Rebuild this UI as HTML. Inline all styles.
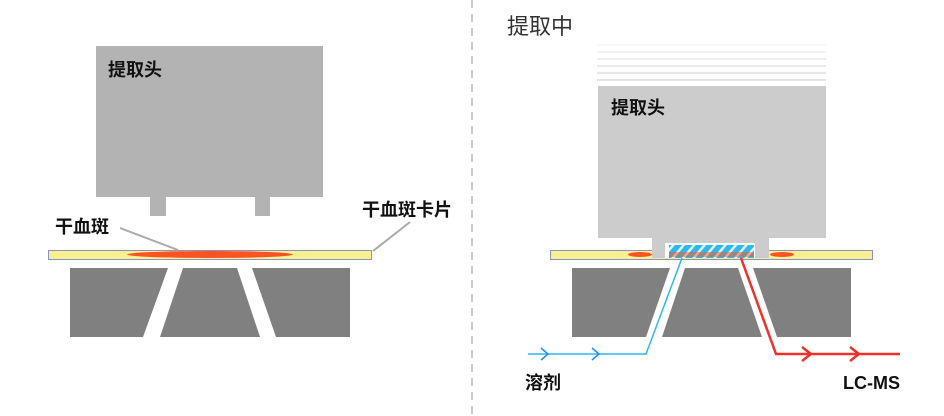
<!DOCTYPE html>
<html><head><meta charset="utf-8"><style>
body{margin:0;background:#fff;}
svg{display:block;}
text{font-family:"Liberation Sans","Noto Sans CJK SC",sans-serif;}
</style></head><body>
<svg width="944" height="416" viewBox="0 0 944 416" xmlns="http://www.w3.org/2000/svg">
<defs>
<pattern id="hatch" width="8" height="8" patternUnits="userSpaceOnUse" patternTransform="rotate(40)">
<rect width="8" height="8" fill="#2fb8ee"/>
<rect width="2.5" height="8" fill="#fff" opacity="0.85"/>
</pattern>
</defs>
<line x1="472" y1="0" x2="472" y2="416" stroke="#bbb" stroke-width="1.5" stroke-dasharray="8,6"/>

<!-- LEFT -->
<rect x="96" y="46" width="227" height="151" fill="#b3b3b3"/>
<rect x="150" y="196" width="16" height="20" fill="#b3b3b3"/>
<rect x="255" y="196" width="15" height="20" fill="#b3b3b3"/>
<text x="108" y="76" font-size="18" font-weight="bold" fill="#111">提取头</text>
<rect x="48.5" y="250.5" width="323" height="9" fill="#fbf08f" stroke="#8a93c4" stroke-width="1"/>
<ellipse cx="210" cy="254.5" rx="83" ry="3.5" fill="#fb5420"/>
<polygon points="70,268 168,268 143,337 70,337" fill="#808080"/>
<polygon points="183,268 237,268 260,337 160,337" fill="#808080"/>
<polygon points="252,268 350,268 350,337 276,337" fill="#808080"/>
<text x="55" y="233" font-size="18" font-weight="bold" fill="#111">干血斑</text>
<line x1="120" y1="228" x2="178" y2="250" stroke="#aaa" stroke-width="2"/>
<text x="362" y="216" font-size="18" font-weight="bold" fill="#111">干血斑卡片</text>
<line x1="410" y1="222" x2="373" y2="251" stroke="#aaa" stroke-width="2"/>

<!-- RIGHT -->
<text x="507" y="34" font-size="22" fill="#333">提取中</text>
<line x1="597" y1="45" x2="826" y2="45" stroke="#f0f0f0" stroke-width="1"/>
<line x1="597" y1="52" x2="826" y2="52" stroke="#e6e6e6" stroke-width="1"/>
<line x1="597" y1="59" x2="826" y2="59" stroke="#dedede" stroke-width="1"/>
<line x1="597" y1="66" x2="826" y2="66" stroke="#d6d6d6" stroke-width="1"/>
<line x1="597" y1="73" x2="826" y2="73" stroke="#d0d0d0" stroke-width="1"/>
<line x1="597" y1="80" x2="826" y2="80" stroke="#c8c8c8" stroke-width="1"/>
<rect x="598" y="86" width="228" height="152" fill="#cccccc"/>
<rect x="652" y="237" width="117" height="20" fill="#cccccc"/>
<rect x="665" y="243" width="90" height="14" fill="#fff"/>
<text x="611" y="114" font-size="18" font-weight="bold" fill="#111">提取头</text>
<rect x="550.5" y="250.5" width="322" height="9" fill="#fbf08f" stroke="#8a93c4" stroke-width="1"/>
<rect x="652" y="250" width="117" height="8" fill="#cccccc"/>
<rect x="665" y="250" width="90" height="8" fill="#fff"/>
<ellipse cx="640" cy="254.5" rx="12" ry="2.5" fill="#fb5420"/>
<ellipse cx="782" cy="254.5" rx="12" ry="2.5" fill="#fb5420"/>
<rect x="669" y="245" width="85" height="13" fill="url(#hatch)"/>
<rect x="669" y="252" width="85" height="5" fill="#fb5420" opacity="0.5"/>
<polygon points="572,268 670,268 646,337 572,337" fill="#808080"/>
<polygon points="685,268 738,268 762,337 662,337" fill="#808080"/>
<polygon points="753,268 851,268 851,337 777,337" fill="#808080"/>
<polyline points="528,354 646,354 682,258" fill="none" stroke="#2fb8ee" stroke-width="1.5"/>
<path d="M541 348 L548 354 L541 360 M592 348 L599 354 L592 360" fill="none" stroke="#1e8ef0" stroke-width="1.5"/>
<polyline points="741,258 776,354 900,354" fill="none" stroke="#f2302a" stroke-width="2.5"/>
<path d="M802 347 L811 354 L802 361 M850 347 L859 354 L850 361" fill="none" stroke="#f2302a" stroke-width="2.5"/>
<text x="525" y="389" font-size="18" font-weight="bold" fill="#111">溶剂</text>
<text x="843" y="389" font-size="18" font-weight="bold" fill="#111">LC-MS</text>
</svg>
</body></html>
